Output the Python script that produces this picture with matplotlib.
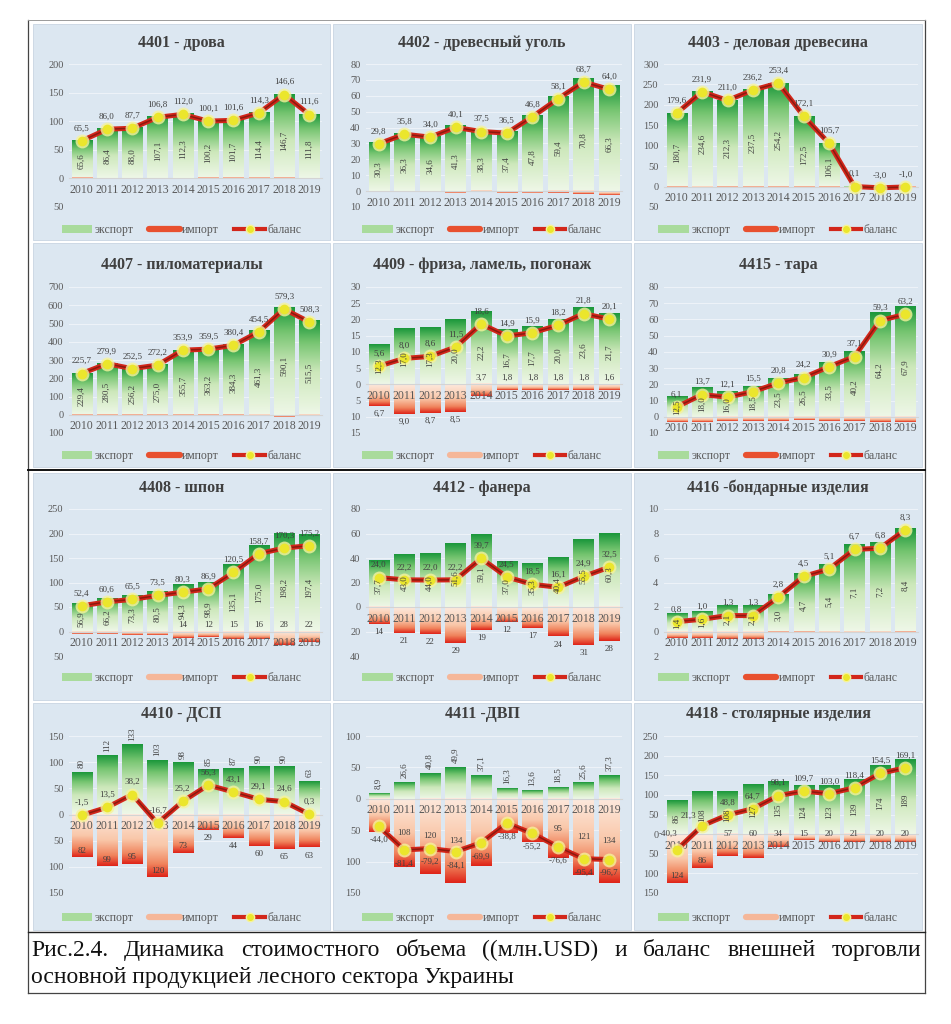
import numpy as np
import matplotlib
matplotlib.use('Agg')
import matplotlib.pyplot as plt
from matplotlib.colors import LinearSegmentedColormap
from matplotlib.ticker import FuncFormatter, MultipleLocator
from matplotlib.lines import Line2D
from matplotlib.patches import Patch, Rectangle

plt.rcParams['font.family'] = ['Liberation Serif', 'DejaVu Serif']

# ---- data (млн. USD); import kept positive, drawn below zero ----
years = ['2010', '2011', '2012', '2013', '2014', '2015', '2016', '2017', '2018', '2019']

titles = ['4401 - дрова', '4402 - древесный уголь', '4403 - деловая древесина',
          '4407 - пиломатериалы', '4409 - фриза, ламель, погонаж', '4415 - тара',
          '4408 - шпон', '4412 - фанера', '4416 -бондарные изделия',
          '4410 - ДСП', '4411 -ДВП', '4418 - столярные изделия']

exp_4401 = [65.6, 86.4, 88.0, 107.1, 112.3, 100.2, 101.7, 114.4, 146.7, 111.8]
imp_4401 = [0.1, 0.4, 0.3, 0.3, 0.3, 0.1, 0.1, 0.1, 0.1, 0.2]
bal_4401 = [65.5, 86.0, 87.7, 106.8, 112.0, 100.1, 101.6, 114.3, 146.6, 111.6]

exp_4402 = [30.3, 36.3, 34.6, 41.3, 38.3, 37.4, 47.8, 59.4, 70.8, 66.3]
imp_4402 = [0.5, 0.5, 0.6, 1.2, 0.8, 0.9, 1.0, 1.3, 2.1, 2.3]
bal_4402 = [29.8, 35.8, 34.0, 40.1, 37.5, 36.5, 46.8, 58.1, 68.7, 64.0]

exp_4403 = [180.7, 234.6, 212.3, 237.5, 254.2, 172.5, 106.1, 0.1, 0.0, 0.0]
imp_4403 = [1.1, 2.7, 1.3, 1.3, 0.8, 0.4, 0.4, 0.0, 3.0, 1.0]
bal_4403 = [179.6, 231.9, 211.0, 236.2, 253.4, 172.1, 105.7, 0.1, -3.0, -1.0]

exp_4407 = [229.4, 280.5, 256.2, 275.0, 355.7, 363.2, 384.3, 461.3, 590.1, 515.5]
imp_4407 = [3.7, 0.6, 3.7, 2.8, 1.8, 3.7, 3.9, 6.8, 10.8, 7.2]
bal_4407 = [225.7, 279.9, 252.5, 272.2, 353.9, 359.5, 380.4, 454.5, 579.3, 508.3]

exp_4409 = [12.3, 17.0, 17.3, 20.0, 22.2, 16.7, 17.7, 20.0, 23.6, 21.7]
imp_4409 = [6.7, 9.0, 8.7, 8.5, 3.7, 1.8, 1.8, 1.8, 1.8, 1.6]
bal_4409 = [5.6, 8.0, 8.6, 11.5, 18.6, 14.9, 15.9, 18.2, 21.8, 20.1]

exp_4415 = [12.5, 18.0, 16.0, 18.5, 23.5, 26.5, 33.5, 40.2, 64.2, 67.9]
imp_4415 = [3.0, 3.0, 2.8, 2.8, 2.8, 2.2, 2.6, 2.6, 3.4, 3.4]
bal_4415 = [6.1, 13.7, 12.1, 15.5, 20.8, 24.2, 30.9, 37.1, 59.3, 63.2]

exp_4408 = [56.9, 66.2, 73.3, 80.5, 94.3, 98.9, 135.1, 175.0, 198.2, 197.4]
imp_4408 = [4.5, 5.6, 7.8, 7.0, 14, 12, 15, 16, 28, 22]
bal_4408 = [52.4, 60.6, 65.5, 73.5, 80.3, 86.9, 120.5, 158.7, 170.3, 175.2]

exp_4412 = [37.7, 43.0, 44.0, 51.6, 59.1, 37.0, 35.3, 40.4, 55.5, 60.3]
imp_4412 = [14, 21, 22, 29, 19, 12, 17, 24, 31, 28]
bal_4412 = [24.0, 22.2, 22.0, 22.2, 39.7, 24.5, 18.5, 16.1, 24.9, 32.5]

exp_4416 = [1.4, 1.6, 2.1, 2.1, 3.0, 4.7, 5.4, 7.1, 7.2, 8.4]
imp_4416 = [0.5, 0.5, 0.6, 0.6, 0.05, 0.05, 0.15, 0.15, 0.15, 0.05]
bal_4416 = [0.8, 1.0, 1.3, 1.3, 2.8, 4.5, 5.1, 6.7, 6.8, 8.3]

exp_4410 = [80, 112, 133, 103, 98, 85, 87, 90, 90, 63]
imp_4410 = [82, 99, 95, 120, 73, 29, 44, 60, 65, 63]
bal_4410 = [-1.5, 13.5, 38.2, -16.7, 25.2, 56.3, 43.1, 29.1, 24.6, 0.3]

exp_4411 = [8.9, 26.6, 40.8, 49.9, 37.1, 16.3, 13.6, 18.5, 25.6, 37.3]
imp_4411 = [52.9, 108, 120, 134, 107, 55, 69, 95, 121, 134]
bal_4411 = [-44.0, -81.4, -79.2, -84.1, -69.9, -38.8, -55.2, -76.6, -95.4, -96.7]

exp_4418 = [86, 108, 108, 127, 135, 124, 123, 139, 174, 189]
imp_4418 = [124, 86, 57, 60, 34, 15, 20, 21, 20, 20]
bal_4418 = [-40.3, 21.3, 48.8, 64.7, 98.1, 109.7, 103.0, 118.4, 154.5, 169.1]

exports = [exp_4401, exp_4402, exp_4403, exp_4407, exp_4409, exp_4415,
           exp_4408, exp_4412, exp_4416, exp_4410, exp_4411, exp_4418]
imports = [imp_4401, imp_4402, imp_4403, imp_4407, imp_4409, imp_4415,
           imp_4408, imp_4412, imp_4416, imp_4410, imp_4411, imp_4418]
balances = [bal_4401, bal_4402, bal_4403, bal_4407, bal_4409, bal_4415,
            bal_4408, bal_4412, bal_4416, bal_4410, bal_4411, bal_4418]

# ---- per panel styling ----
ylims = [(-50, 200, 50), (-10, 80, 10), (-50, 300, 50),
         (-100, 700, 100), (-15, 30, 5), (-10, 80, 10),
         (-50, 250, 50), (-40, 80, 20), (-2, 10, 2),
         (-150, 150, 50), (-150, 100, 50), (-150, 250, 50)]
exp_digits = [1, 1, 1, 1, 1, 1, 1, 1, 1, 0, 1, 0]
exp_mode = ['center'] * 9 + ['top', 'top', 'center']
imp_digits = [1, 1, 1, 1, 1, 1, 0, 0, 1, 0, 0, 0]
c = 'center'
imp_mode = [[None] * 10, [None] * 10, [None] * 10, [None] * 10,
            ['below'] * 4 + ['base'] * 6, [None] * 10,
            [None] * 4 + ['base'] * 6, ['below'] * 10, [None] * 10,
            ['inside'] * 5 + ['below'] * 5,
            [None, c, c, c, None, None, None, c, c, c],
            ['inside'] * 2 + ['zero'] * 8]
bal_below = [False] * 10 + [True, False]
# a few balance labels sit elsewhere to stay clear of other texts
bal_offset = {(11, 0): (-6, 9), (11, 1): (-10, 4)}
imp_legend_col = ['#e8502f'] * 4 + ['#f5b799', '#e8502f', '#f5b799', '#f5b799', '#e8502f',
                                    '#f5b799', '#f5b799', '#f5b799']

W, H = 951, 1024
col_panel = [(33, 330), (333, 631), (634, 922)]
col_axes = [(69, 322), (366, 622), (664, 918)]
row_panel = [(24, 240), (243, 467), (473, 700), (703, 930)]
row_axes = [(64, 207), (287, 433), (509, 656), (736, 893)]
row_title = [43, 265, 488, 714]
row_legend = [230, 456, 678, 918]

panel_bg = '#dce7f1'
txt_col = '#404040'
tick_col = '#595959'

cm_exp = LinearSegmentedColormap.from_list('exp', [(0, '#eef7e7'), (0.45, '#cde8bb'),
                                                   (0.78, '#74c46f'), (1, '#1c983c')])
cm_imp = LinearSegmentedColormap.from_list('imp', [(0, '#fde9dd'), (0.5, '#f9c7a9'),
                                                   (0.8, '#f0835c'), (1, '#df2519')])
grad = np.linspace(0, 1, 64).reshape(-1, 1)


def fmt(v, nd):
    return f'{v:.{nd}f}'.replace('.', ',')


def gbar(ax, xc, h, w, cmap):
    if h == 0:
        return
    if h > 0:
        ax.imshow(grad, cmap=cmap, aspect='auto', origin='lower',
                  extent=(xc - w / 2, xc + w / 2, 0, h), zorder=1, interpolation='bilinear')
    else:
        ax.imshow(grad, cmap=cmap, aspect='auto', origin='upper',
                  extent=(xc - w / 2, xc + w / 2, h, 0), zorder=1, interpolation='bilinear')


fig = plt.figure(figsize=(W / 100, H / 100), dpi=100)
fig.patch.set_facecolor('white')

for i in range(12):
    r, cc = divmod(i, 3)
    px0, px1 = col_panel[cc]
    py0, py1 = row_panel[r]
    fig.patches.append(Rectangle((px0 / W, 1 - py1 / H), (px1 - px0) / W, (py1 - py0) / H,
                                 transform=fig.transFigure, facecolor=panel_bg,
                                 edgecolor='#c8d5e2', lw=0.6, zorder=-5))
    a0, a1 = col_axes[cc]
    b0, b1 = row_axes[r]
    ax = fig.add_axes([a0 / W, 1 - b1 / H, (a1 - a0) / W, (b1 - b0) / H])
    ax.set_facecolor('none')
    ax.set_zorder(1)

    ex = np.array(exports[i], float)
    im = np.array(imports[i], float)
    bl = np.array(balances[i], float)
    x = np.arange(len(years))
    ymin, ymax, step = ylims[i]
    span = ymax - ymin
    bw = 0.8

    for t in np.arange(ymin, ymax + step / 2, step):
        ax.axhline(t, color='#edf2f8', lw=0.8, zorder=0.3)

    for k in range(len(x)):
        gbar(ax, x[k], ex[k], bw, cm_exp)
        gbar(ax, x[k], -im[k], bw, cm_imp)

    ax.plot(x, bl, color='#d2261a', lw=3.6, zorder=3, solid_capstyle='round')
    ax.plot(x, bl, color='#8c1a10', lw=1.1, zorder=3.1)
    ax.plot(x, bl, 'o', ms=10, color='#f6f39a', alpha=0.8, zorder=3.2, mec='none')
    ax.plot(x, bl, 'o', ms=7, color='#ebe62c', zorder=3.3, mec='none')

    # labels
    for k in range(len(x)):
        if ex[k] > 0.03 * span:
            if exp_mode[i] == 'center':
                ax.text(x[k], ex[k] * 0.45, fmt(ex[k], exp_digits[i]), rotation=90,
                        ha='center', va='center', fontsize=6.5, color=txt_col, zorder=5)
            else:
                ax.annotate(fmt(ex[k], exp_digits[i]), (x[k], ex[k]), xytext=(0, 3),
                            textcoords='offset points', rotation=90, ha='center',
                            va='bottom', fontsize=6.5, color=txt_col, zorder=5)
        m = imp_mode[i][k]
        if m is not None:
            s = fmt(im[k], imp_digits[i])
            if m == 'below':
                ax.annotate(s, (x[k], -im[k]), xytext=(0, -3), textcoords='offset points',
                            ha='center', va='top', fontsize=6.5, color=txt_col, zorder=5)
            elif m == 'inside':
                ax.annotate(s, (x[k], -im[k]), xytext=(0, 2), textcoords='offset points',
                            ha='center', va='bottom', fontsize=6.5, color=txt_col, zorder=5)
            elif m == 'base':
                ax.annotate(s, (x[k], 0), xytext=(0, 2), textcoords='offset points',
                            ha='center', va='bottom', fontsize=6.5, color=txt_col, zorder=5)
            elif m == 'zero':
                ax.text(x[k], 0, s, ha='center', va='center', fontsize=6.5,
                        color=txt_col, zorder=5)
            else:
                ax.text(x[k], -im[k] / 2, s, ha='center', va='center', fontsize=6.5,
                        color=txt_col, zorder=5)
        if (i, k) in bal_offset:
            ax.annotate(fmt(bl[k], 1), (x[k], bl[k]), xytext=bal_offset[(i, k)],
                        textcoords='offset points', ha='center', va='bottom',
                        fontsize=6.5, color=txt_col, zorder=5)
        elif bal_below[i]:
            ax.annotate(fmt(bl[k], 1), (x[k], bl[k]), xytext=(0, -7), textcoords='offset points',
                        ha='center', va='top', fontsize=6.5, color=txt_col, zorder=5)
        else:
            ax.annotate(fmt(bl[k], 1), (x[k], bl[k]), xytext=(0, 6), textcoords='offset points',
                        ha='center', va='bottom', fontsize=6.5, color=txt_col, zorder=5)

    ax.set_xlim(-0.5, len(x) - 0.5)
    ax.set_ylim(ymin, ymax)
    ax.yaxis.set_major_locator(MultipleLocator(step))
    ax.yaxis.set_major_formatter(FuncFormatter(lambda v, p: f'{abs(v):g}'))
    ax.set_xticks(x)
    ax.set_xticklabels(years)
    ax.spines['bottom'].set_position(('data', 0))
    ax.spines['bottom'].set_color('#d4d4d4')
    ax.spines['bottom'].set_linewidth(0.8)
    for sp in ['left', 'top', 'right']:
        ax.spines[sp].set_visible(False)
    ax.tick_params(axis='x', length=0, pad=4, labelsize=8.5, labelcolor=tick_col)
    ax.tick_params(axis='y', length=0, pad=4, labelsize=7.5, labelcolor=tick_col)

    fig.text((px0 + px1) / 2 / W, 1 - row_title[r] / H, titles[i], ha='center', va='center',
             fontsize=11.5, fontweight='bold', color=txt_col)

    handles = [Patch(facecolor='#a9db9c', edgecolor='none'),
               Line2D([], [], color=imp_legend_col[i], lw=4.5, solid_capstyle='round'),
               Line2D([], [], color='#d2261a', lw=3, marker='o', ms=6,
                      mfc='#ebe62c', mec='#f6f39a')]
    leg = ax.legend(handles, ['экспорт', 'импорт', 'баланс'], loc='center',
                    bbox_to_anchor=((px0 + px1) / 2 / W, 1 - row_legend[r] / H),
                    bbox_transform=fig.transFigure, ncol=3, frameon=False, fontsize=8.5,
                    handlelength=2.6, handleheight=0.6, columnspacing=1.3, handletextpad=0.2)
    for t in leg.get_texts():
        t.set_color(tick_col)

# frame lines
def fline(x0, y0, x1, y1, col, lw):
    fig.add_artist(Line2D([x0 / W, x1 / W], [1 - y0 / H, 1 - y1 / H], transform=fig.transFigure,
                          color=col, lw=lw, zorder=5))

fline(28, 20, 28, 993, '#444444', 0.9)
fline(925, 20, 925, 993, '#444444', 0.9)
fline(28, 20, 925, 20, '#9a9a9a', 0.7)
fline(28, 993, 925, 993, '#444444', 0.9)
fline(28, 470, 925, 470, '#111111', 1.4)
fline(28, 932, 925, 932, '#222222', 1.0)

# caption, first line justified
line1 = 'Рис.2.4. Динамика стоимостного объема ((млн.USD) и баланс внешней торговли'.split()
line2 = 'основной продукцией лесного сектора Украины'
fig.canvas.draw()
rend = fig.canvas.get_renderer()
words = [fig.text(0, 0, w, fontsize=17, color='#111111', va='baseline') for w in line1]
widths = [w.get_window_extent(rend).width for w in words]
xl, xr = 31, 921
gap = (xr - xl - sum(widths)) / (len(words) - 1)
xp = xl
for w, wd in zip(words, widths):
    w.set_position((xp / W, 1 - 956 / H))
    xp += wd + gap
fig.text(xl / W, 1 - 983 / H, line2, fontsize=17, color='#111111', va='baseline')

fig.savefig('out.png', dpi=100)
